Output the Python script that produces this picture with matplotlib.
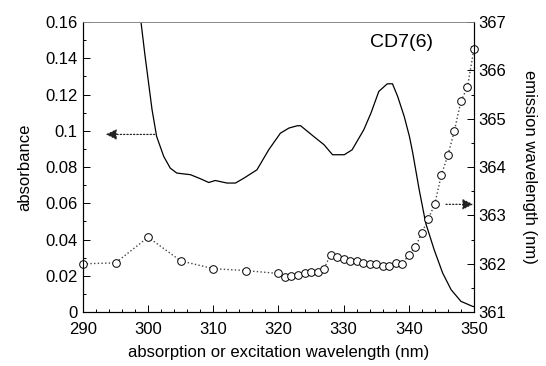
import matplotlib
matplotlib.use("Agg")
import matplotlib.pyplot as plt
from matplotlib.ticker import MultipleLocator, FuncFormatter

plt.rcParams['font.family'] = ['Liberation Sans', 'DejaVu Sans']

# absorbance spectrum (solid line, left axis)
abs_wl = [298.5, 298.9, 299.5, 300.6, 301.3, 302.4, 303.4, 304.4, 306.5, 308.0,
          309.3, 310.3, 312.1, 313.4, 314.7, 316.7, 318.5, 320.3, 321.6, 322.9,
          323.4, 325.4, 327.0, 328.3, 330.1, 331.3, 333.1, 334.2, 335.4, 336.7,
          337.5, 338.3, 339.3, 340.1, 340.6, 341.6, 342.6, 343.9, 345.2, 346.5,
          348.0, 349.8, 350.0]
absorbance = [0.171, 0.160, 0.142, 0.1116, 0.0969, 0.0858, 0.0794, 0.0767, 0.0758, 0.0736,
              0.0715, 0.0726, 0.0712, 0.0712, 0.0739, 0.0785, 0.0895, 0.0987, 0.1015, 0.1028,
              0.1028, 0.0969, 0.0923, 0.0868, 0.0868, 0.0895, 0.1006, 0.1098, 0.1217, 0.1259,
              0.1259, 0.1189, 0.1079, 0.0969, 0.0880, 0.0675, 0.0491, 0.0344, 0.0216, 0.0124,
              0.0060, 0.0032, 0.0031]

# emission maximum vs excitation wavelength (open circles, right axis)
exc_wl = [290, 295, 300, 305, 310, 315, 320, 321, 322, 323, 324, 325, 326, 327,
          328, 329, 330, 331, 332, 333, 334, 335, 336, 337, 338, 339, 340, 341,
          342, 343, 344, 345, 346, 347, 348, 349, 350]
emission = [362.00, 362.02, 362.55, 362.06, 361.90, 361.86, 361.80, 361.72, 361.74, 361.77,
            361.81, 361.84, 361.84, 361.90, 362.19, 362.14, 362.10, 362.05, 362.06, 362.02,
            362.00, 361.99, 361.95, 361.95, 362.02, 361.99, 362.19, 362.34, 362.64, 362.93,
            363.24, 363.84, 364.24, 364.75, 365.36, 365.65, 366.44]

fig = plt.figure(figsize=(5.46, 3.66), dpi=100)
ax = fig.add_axes([0.152, 0.147, 0.716, 0.793])
ax2 = ax.twinx()

ax.plot(abs_wl, absorbance, color='black', lw=0.9, clip_on=True)
ax2.plot(exc_wl, emission, ls=':', color='#444444', lw=1.0,
         marker='o', ms=5.5, mfc='white', mec='black', mew=0.7, clip_on=False)

ax.set_xlim(290, 350)
ax.set_ylim(0, 0.16)
ax2.set_ylim(361, 367)

ax.xaxis.set_major_locator(MultipleLocator(10))
ax.xaxis.set_minor_locator(MultipleLocator(2))
ax.yaxis.set_major_locator(MultipleLocator(0.02))
ax.yaxis.set_minor_locator(MultipleLocator(0.01))
ax.yaxis.set_major_formatter(FuncFormatter(lambda v, p: f"{v:.2f}".rstrip('0').rstrip('.') if v else "0"))
ax2.yaxis.set_major_locator(MultipleLocator(1))
ax2.yaxis.set_minor_locator(MultipleLocator(0.5))

for a in (ax, ax2):
    a.tick_params(which='both', direction='in', top=False, labelsize=12, width=0.7)
    a.tick_params(which='major', length=5)
    a.tick_params(which='minor', length=2.5)
    for s in a.spines.values():
        s.set_linewidth(0.8)
    a.spines['top'].set_color('#888888')
    a.spines['top'].set_linewidth(0.6)
ax.tick_params(axis='x', pad=7)
ax.tick_params(axis='y', pad=4)
ax2.tick_params(axis='y', pad=3)

ax.set_xlabel('absorption or excitation wavelength (nm)', fontsize=12, labelpad=6)
ax.set_ylabel('absorbance', fontsize=12, labelpad=9)
ax2.set_ylabel('emission wavelength (nm)', fontsize=12, rotation=270, labelpad=22)

ax.text(338.9, 0.1486, 'CD7(6)', fontsize=14, ha='center', va='center')

# arrows pointing to the relevant axes
ax.annotate('', xy=(293.5, 0.098), xytext=(301.0, 0.098),
            arrowprops=dict(arrowstyle='-|>', ls=':', color='#222222', lw=0.9,
                            mutation_scale=16, shrinkA=0, shrinkB=0))
ax2.annotate('', xy=(349.9, 363.23), xytext=(345.7, 363.23),
             arrowprops=dict(arrowstyle='-|>', ls=':', color='#222222', lw=0.9,
                             mutation_scale=16, shrinkA=0, shrinkB=0))

fig.savefig('out.png', dpi=100)
